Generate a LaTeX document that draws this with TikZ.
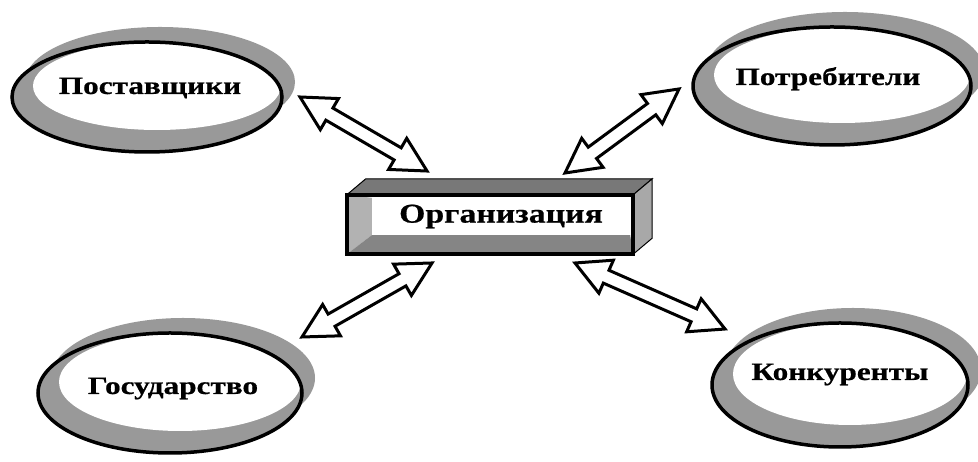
\documentclass[tikz,border=0pt]{standalone}
\usepackage{fontspec}
\setmainfont[FakeStretch=1.25, BoldFeatures={FakeBold=0.6}]{Liberation Serif}
\usepackage{tikz}
\usetikzlibrary{calc}
\definecolor{ringgray}{gray}{0.6}
\definecolor{topgray}{gray}{0.47}
\definecolor{sidegray}{gray}{0.66}
\definecolor{leftgray}{gray}{0.7}
\definecolor{basegray}{gray}{0.52}
\tikzset{
  lbl/.style={font=\bfseries\fontsize{25}{29}\selectfont, inner sep=0pt},
  orgbox/.style={fill=white, minimum width=258pt, minimum height=37pt, inner sep=0pt,
    font=\bfseries\fontsize{27}{32}\selectfont},
  linkarr/.style={draw=black, fill=white, line width=3pt, line join=miter},
}
% hollow double arrow between two named points
\newcommand\linkarrow[2]{%
  \draw[linkarr] let \p1 = ($(#2)-(#1)$), \n1 = {atan2(\y1,\x1)}, \n2 = {veclen(\x1,\y1)} in
    (#1) -- ++({\n1+27.9}:38.5) -- ++({\n1-90}:11) -- ++({\n1}:{\n2-68}) -- ++({\n1+90}:11)
    -- ++({\n1-27.9}:38.5) -- ++({\n1+207.9}:38.5) -- ++({\n1+90}:11)
    -- ++({\n1+180}:{\n2-68}) -- ++({\n1-90}:11) -- cycle;
}

\begin{document}
\begin{tikzpicture}[x=1pt, y=1pt]
    \useasboundingbox (0,0) rectangle (978,462);
    \fill[white] (0,0) rectangle (978,462);
    % the four partners
    \foreach \cx/\cy/\rx/\ry/\nm/\txt/\bx/\by in {147/365/135/55/sup/Поставщики/150/368,
        832/376/139/59/cons/Потребители/828/377, 170/69/132/60/gov/Государство/173/68,
        840/77/128/62/comp/Конкуренты/840/82} {
        \fill[ringgray] ({\cx+13},{\cy+15}) ellipse [x radius=\rx, y radius=\ry];
        \fill[ringgray] (\cx,\cy) ellipse [x radius=\rx, y radius=\ry];
        \begin{scope}
            \clip (\cx,\cy) ellipse [x radius=\rx, y radius=\ry];
            \fill[white] ({\cx+10},{\cy+11}) ellipse [x radius=\rx-11, y radius=\ry-11];
        \end{scope}
        \draw[line width=3.5pt] (\cx,\cy) ellipse [x radius=\rx, y radius=\ry];
        \node[lbl, anchor=base] (\nm) at (\bx,\by) {\txt};
    }
    % the organisation block
    \node[orgbox] (org) at (501,245.5) {Организация};
    \draw[fill=topgray, line width=1pt] ($(org.north west)+(-25,3)$) -- ++(19,16)
        -- ($(org.north east)+(22,19)$) -- ($(org.north east)+(3,3)$) -- cycle;
    \draw[fill=sidegray, line width=1pt] ($(org.north east)+(3,3)$) -- ++(19,16)
        -- ($(org.south east)+(22,-3)$) -- ($(org.south east)+(3,-19)$) -- cycle;
    \fill[leftgray] ($(org.north west)+(-25,3)$) -- (org.north west) -- (org.south west)
        -- ($(org.south west)+(-25,-19)$) -- cycle;
    \fill[basegray] ($(org.south west)+(-25,-19)$) -- (org.south west) -- (org.south east)
        -- ($(org.south east)+(3,-19)$) -- cycle;
    \draw[line width=4pt] ($(org.south west)+(-25,-19)$) rectangle ($(org.north east)+(3,3)$);
    % arrow ends
    \coordinate (sup-end) at (300,365);
    \coordinate (org-nw) at (427,291);
    \coordinate (cons-end) at (679,373);
    \coordinate (org-ne) at (565,289);
    \coordinate (gov-end) at (302,125);
    \coordinate (org-sw) at (432,199);
    \coordinate (comp-end) at (725,133);
    \coordinate (org-se) at (575,199);
    \linkarrow{sup-end}{org-nw}
    \linkarrow{org-ne}{cons-end}
    \linkarrow{gov-end}{org-sw}
    \linkarrow{org-se}{comp-end}
\end{tikzpicture}
\end{document}
